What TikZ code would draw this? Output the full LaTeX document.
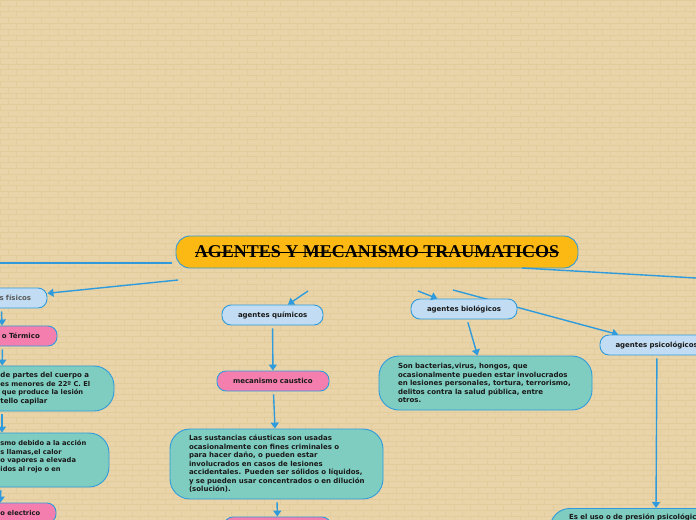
\documentclass[tikz,border=0pt]{standalone}
\usepackage{fontspec}
\usepackage{xcolor}
\usetikzlibrary{arrows.meta,backgrounds}
\setmainfont{DejaVu Sans}
\newfontfamily\titlefont{Liberation Serif}
\newcommand{\pad}[1]{\hspace*{#1pt}}
\newcommand{\tight}{\fontsize{6.7}{8.5}\selectfont}
\definecolor{paper}{HTML}{E8D4A8}
\definecolor{brick}{HTML}{E3CC9C}
\definecolor{rim}{HTML}{2F9BDC}
\definecolor{gold}{HTML}{FDB913}
\definecolor{sky}{HTML}{C2DDF3}
\definecolor{rose}{HTML}{F47FAE}
\definecolor{mint}{HTML}{7FCDC0}
\tikzset{
  box/.style={draw=rim,line width=0.9pt,text=black!90,align=left,inner ysep=2pt,inner xsep=4pt,
    font=\fontsize{7}{8.5}\selectfont\bfseries},
  pill/.style={box,rounded corners=9pt,minimum height=20pt,text width=#1-8pt,minimum width=#1},
  agent/.style={pill=#1,fill=sky},
  mech/.style={pill=#1,fill=rose},
  note/.style={box,fill=mint,rounded corners=20pt,text width=#1-8pt,minimum width=#1},
  link/.style={draw=rim,line width=1.4pt,-{Triangle[width=8pt,length=6pt]}},
  bare/.style={draw=rim,line width=1.4pt},
  gap/.style={shorten <=3pt}
}
\begin{document}
\begin{tikzpicture}[x=1pt,y=-1pt]
    \useasboundingbox (0,0) rectangle (696,519.8);
    \begin{scope}[on background layer]
        \fill [paper] (0,0) rectangle (696,522);
        \foreach \r in {0,...,89} {
            \pgfmathsetmacro{\ypos}{5.8*\r}
            \pgfmathsetmacro{\shift}{mod(\r,2)*8.25}
            \draw [brick,line width=0.5pt] (0,\ypos) -- (696,\ypos);
            \foreach \c in {0,...,43} {
                \draw [brick,line width=0.5pt] (16.5*\c+\shift,\ypos) -- ++(0,5.8);
            }
        }
    \end{scope}
    \clip (0,0) rectangle (696,522);

    \node (title) at (377,252) [draw=rim,line width=0.9pt,fill=gold,rounded corners=14pt,minimum width=402pt,minimum height=32pt,inner sep=0pt,font=\titlefont\fontsize{18}{20}\selectfont\bfseries] {AGENTES Y MECANISMO TRAUMATICOS};
    \coordinate (tachoa) at (195,252.5);
    \coordinate (tachob) at (559,252.5);
    \draw [black,line width=0.9pt] (tachoa) -- (tachob);

    \node (fisicos) at (1,298) [agent=92pt,text=black!65] {\pad{40.5}s físicos};
    \node (termico) at (2.5,336) [mech=109pt] {\pad{50}o Térmico};
    \node (frio) at (2,388.5) [note=224pt,minimum height=45pt] {\pad{106.5}de partes del cuerpo a\\
        \pad{106.5}{\tight es menores de 22º C. El}\\
        \pad{108}{\tight que produce la lesión}\\
        \pad{106.5}tello capilar};
    \node (calor) at (2,460) [note=214pt,minimum height=54pt,font=\tight\bfseries] {\pad{101.5}smo debido a la acción\\
        \pad{101.5}s llamas,el calor\\
        \pad{101.5}o vapores a elevada\\
        \pad{101.5}idos al rojo o en\\
        \mbox{}};
    \node (electrico) at (0,513) [mech=112pt] {\pad{52.5}{\tight o electrico}};

    \node (quimicos) at (272.5,315) [agent=101pt] {\pad{12}agentes químicos};
    \node (caustico) at (273,381) [mech=112pt] {\pad{12}mecanismo caustico};
    \node (sustancias) at (276.5,464) [note=213pt,minimum height=70pt] {\pad{15}Las sustancias cáusticas son usadas\\
        \pad{15}ocasionalmente con fines criminales o\\
        \pad{15}para hacer daño, o pueden estar\\
        \pad{15}involucrados en casos de lesiones\\
        \pad{15}accidentales. Pueden ser sólidos o líquidos,\\
        \pad{15}y se pueden usar concentrados o en dilución\\
        \pad{15}(solución).};
    \node (siguiente) at (277.5,527) [mech=107pt] {};

    \node (biologicos) at (464,309) [agent=106pt] {\pad{12}agentes biológicos};
    \node (bacterias) at (485.5,383) [note=213pt,minimum height=54pt] {\pad{15}Son bacterias,virus, hongos, que\\
        \pad{15}ocasionalmente pueden estar involucrados\\
        \pad{15}en lesiones personales, tortura, terrorismo,\\
        \pad{15}delitos contra la salud pública, entre\\
        \pad{15}otros.};

    \node (psicologicos) at (657,345) [agent=114pt] {\pad{11.5}agentes psicológicos};
    \node (presion) at (656,508) [anchor=north,box,fill=mint,rounded corners=20pt,text width=204pt,minimum width=212pt,text depth=56pt,inner ysep=5pt] {\pad{15}Es el uso o de presión psicológica};

    \coordinate (salida) at (172,263);
    \coordinate (borde) at (0,263);
    \coordinate (derecha) at (522,268);
    \coordinate (fuera) at (696,278);
    \coordinate (haciafisicos) at (178,280);
    \coordinate (haciaquimicos) at (308,291);
    \coordinate (haciabiologicos) at (418,291);
    \coordinate (haciapsicologicos) at (453,290);

    \draw [bare] (salida) -- (borde);
    \draw [bare] (derecha) -- (fuera);
    \draw [link] (haciafisicos) -- (fisicos);
    \draw [link] (haciaquimicos) -- (quimicos);
    \draw [link] (haciabiologicos) -- (biologicos);
    \begin{scope}[on background layer]
        \draw [link] (haciapsicologicos) -- (psicologicos);
    \end{scope}

    \draw [link,gap] (fisicos) -- (termico);
    \draw [link,gap] (termico) -- (frio);
    \draw [link,gap] (frio) -- (calor);
    \draw [link,gap] (calor) -- (electrico);
    \draw [link,gap] (quimicos) -- (caustico);
    \draw [link,gap] (caustico) -- (sustancias);
    \draw [link,gap] (sustancias) -- (siguiente);
    \draw [link,gap] (biologicos) -- (bacterias);
    \draw [link,gap] (psicologicos) -- (presion.north);
\end{tikzpicture}
\end{document}
